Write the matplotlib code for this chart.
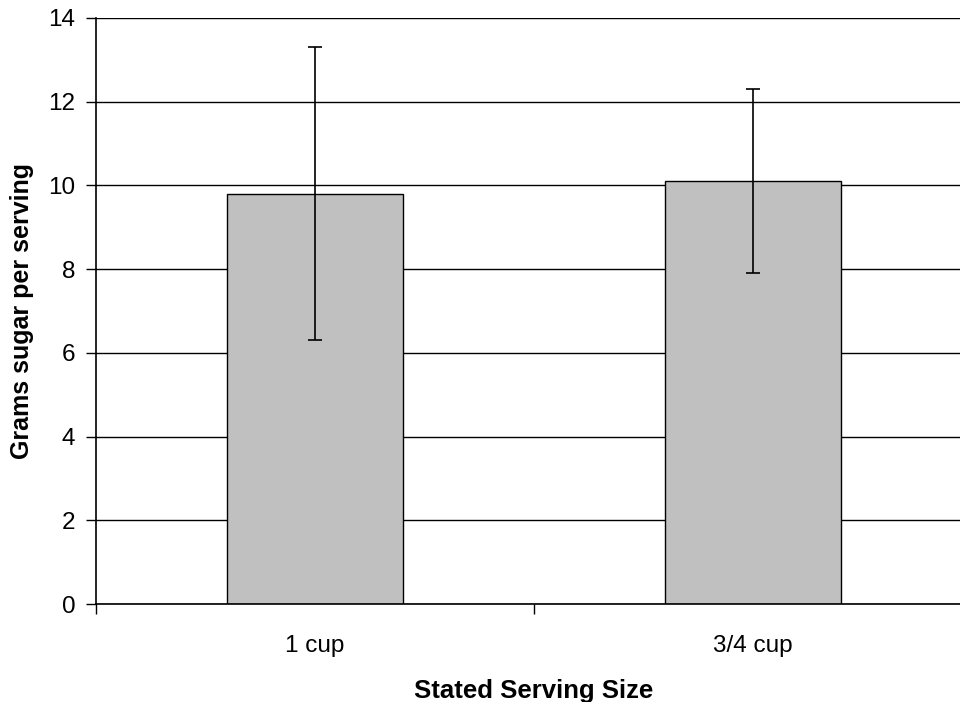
import matplotlib
matplotlib.use("Agg")
import matplotlib.pyplot as plt

plt.rcParams['font.family'] = ['Liberation Sans', 'DejaVu Sans']

categories = ["1 cup", "3/4 cup"]
sugar_means = [9.8, 10.1]
sugar_errors = [3.5, 2.2]
y_ticks = [0, 2, 4, 6, 8, 10, 12, 14]

fig = plt.figure(figsize=(9.6, 7.02), dpi=100)
ax = fig.add_axes([0.1, 0.1396, 0.9125, 0.8348])

x = list(range(len(categories)))
ax.bar(x, sugar_means, width=0.4, color="#C0C0C0", edgecolor="black",
       linewidth=1.0, zorder=3)
ax.errorbar(x, sugar_means, yerr=sugar_errors, fmt="none", ecolor="black",
            elinewidth=1.2, capsize=5, capthick=1.2, zorder=4)

ax.set_xlim(-0.5, len(categories) - 0.5)
ax.set_ylim(0, 14)
ax.set_yticks(y_ticks)
ax.yaxis.grid(True, color="black", linewidth=1.0, zorder=0)

# category boundaries get the tick marks, labels sit in between
ax.set_xticks([i - 0.5 for i in range(len(categories) + 1)])
ax.set_xticklabels([])
ax.set_xticks(x, minor=True)
ax.set_xticklabels(categories, minor=True, fontsize=17.5)
ax.tick_params(axis="x", which="major", direction="out", length=7, width=1.0)
ax.tick_params(axis="x", which="minor", length=0, pad=22.5)
ax.tick_params(axis="y", direction="out", length=7, width=1.0, labelsize=17.5, pad=8)

for side in ["top", "right"]:
    ax.spines[side].set_visible(False)
for side in ["left", "bottom"]:
    ax.spines[side].set_linewidth(1.2)
    ax.spines[side].set_zorder(5)

ax.set_xlabel("Stated Serving Size", fontsize=18.5, fontweight="bold", labelpad=16)
ax.set_ylabel("Grams sugar per serving", fontsize=18, fontweight="bold", labelpad=10)

fig.savefig("out.png", dpi=100)
